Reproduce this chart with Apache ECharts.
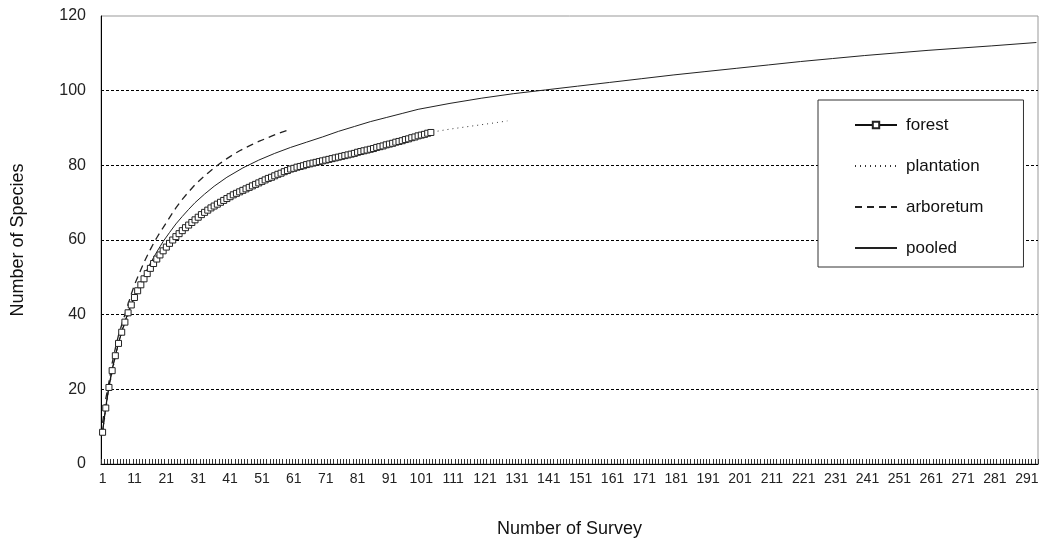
<!DOCTYPE html>
<html><head><meta charset="utf-8">
<script src="https://cdn.jsdelivr.net/npm/echarts@6/dist/echarts.min.js"></script>
<style>html,body{margin:0;padding:0;background:#fff}#c{width:1051px;height:543px}</style>
</head><body><div id="c"></div>
<script>
// survey numbers on the x axis (categories)
const surveyCount = 294;
const categories = Array.from({length: surveyCount}, (_, i) => String(i + 1));
const yTicks = [0, 20, 40, 60, 80, 100, 120];

// forest: one value per survey 1..104
const forestSpecies = [
  8.5, 15, 20.5, 25, 29, 32.3, 35.3, 38, 40.5, 42.6,
  44.6, 46.4, 48, 49.6, 51, 52.4, 53.7, 54.9, 56, 57.1,
  58.1, 59.1, 60, 60.9, 61.7, 62.5, 63.3, 64, 64.7, 65.4,
  66.1, 66.8, 67.4, 68, 68.6, 69.1, 69.6, 70.1, 70.6, 71.1,
  71.6, 72.1, 72.5, 72.9, 73.3, 73.7, 74.1, 74.5, 74.9, 75.3,
  75.7, 76.1, 76.5, 76.8, 77.2, 77.6, 77.9, 78.3, 78.6, 79.0,
  79.2, 79.5, 79.7, 79.9, 80.2, 80.4, 80.6, 80.8, 81.0, 81.2,
  81.4, 81.6, 81.8, 82.0, 82.2, 82.4, 82.6, 82.8, 83.0, 83.2,
  83.5, 83.7, 83.9, 84.1, 84.3, 84.5, 84.8, 85.0, 85.2, 85.5,
  85.7, 85.9, 86.2, 86.4, 86.6, 86.9, 87.1, 87.4, 87.6, 87.9,
  88.1, 88.3, 88.6, 88.8
];

// plantation: read at these survey numbers
const plantationSurvey = [1, 2, 3, 4, 5, 6, 8, 10, 12, 15, 20, 25, 30, 35, 40, 45, 50, 55, 60, 70, 80, 90, 100, 105, 110, 115, 120, 125, 128];
const plantationSpecies = [8, 14.5, 20, 24.5, 28.5, 32, 37.5, 42, 46, 50.5, 56.8, 61.4, 65.2, 68.3, 70.9, 73.2, 75.3, 77.2, 78.9, 81.2, 83.2, 85.5, 87.9, 89, 89.7, 90.3, 90.9, 91.5, 91.9];

// arboretum
const arboretumSurvey = [1, 2, 3, 4, 5, 6, 7, 8, 9, 10, 11, 12, 13, 14, 15, 16, 17, 18, 19, 20, 22, 24, 26, 28, 30, 32, 34, 36, 38, 40, 42, 44, 46, 48, 50, 52, 54, 56, 58, 60];
const arboretumSpecies = [11, 17.5, 22, 27, 31, 34.5, 37.3, 40, 42.8, 45.5, 48, 50, 52, 54, 55.8, 57.5, 59.1, 60.6, 62, 63.3, 66, 68.6, 70.9, 72.9, 74.8, 76.4, 77.9, 79.3, 80.6, 81.8, 82.9, 83.9, 84.8, 85.6, 86.4, 87.1, 87.8, 88.5, 89.1, 89.7];

// pooled
const pooledSurvey = [1, 2, 3, 4, 5, 6, 7, 8, 9, 10, 11, 12, 13, 14, 15, 16, 17, 18, 19, 20, 22, 24, 26, 28, 30, 33, 36, 40, 45, 50, 55, 60, 65, 70, 75, 80, 85, 90, 95, 100, 110, 120, 130, 140, 150, 160, 170, 180, 190, 200, 210, 220, 230, 240, 250, 260, 270, 280, 294];
const pooledSpecies = [9, 15.5, 21, 25.5, 29, 32.5, 35.5, 38.2, 40.6, 42.8, 44.9, 46.8, 48.7, 50.5, 52.2, 53.8, 55.3, 56.8, 58.2, 59.6, 62, 64.3, 66.3, 68.2, 70, 72.3, 74.4, 76.8, 79.3, 81.4, 83.2, 84.8, 86.2, 87.6, 89.1, 90.4, 91.7, 92.8, 93.9, 95.0, 96.6, 98.0, 99.2, 100.2, 101.2, 102.2, 103.2, 104.2, 105.1, 106.0, 106.9, 107.8, 108.6, 109.4, 110.1, 110.8, 111.4, 112.0, 112.9];

const pairs = (xs, ys) => xs.map((x, i) => [x - 1, ys[i]]);
const FONT = 'Liberation Sans, Arial, sans-serif';
const hideSym = {opacity: 0};

const chart = echarts.init(document.getElementById('c'), null, {renderer: 'canvas'});
chart.setOption({
  animation: false,
  backgroundColor: '#fff',
  grid: {left: 101, right: 13, top: 16, bottom: 78, show: true, borderColor: '#999', borderWidth: 1},
  legend: {
    orient: 'vertical', left: 818, top: 100,
    backgroundColor: '#fff', borderColor: '#333', borderWidth: 1,
    padding: [15, 40, 9, 36], itemGap: 21, itemWidth: 42, itemHeight: 8,
    textStyle: {fontFamily: FONT, fontSize: 17, color: '#111', padding: [0, 0, 0, 4], lineHeight: 20},
    data: [
      {name: 'forest'},
      {name: 'plantation', itemStyle: hideSym},
      {name: 'arboretum', itemStyle: hideSym},
      {name: 'pooled', itemStyle: hideSym}
    ]
  },
  xAxis: {
    type: 'category', data: categories, boundaryGap: true,
    name: 'Number of Survey', nameLocation: 'middle', nameGap: 56,
    nameTextStyle: {fontFamily: FONT, fontSize: 18, color: '#111'},
    axisLine: {lineStyle: {color: '#000', width: 1}},
    axisTick: {show: true, inside: true, length: 5, interval: 0, alignWithLabel: false, lineStyle: {color: '#333'}},
    axisLabel: {interval: 9, fontFamily: FONT, fontSize: 14, color: '#222', margin: 8},
    splitLine: {show: false}
  },
  yAxis: {
    type: 'value', min: yTicks[0], max: yTicks[yTicks.length - 1], interval: 20,
    name: 'Number of Species', nameLocation: 'middle', nameGap: 74, nameRotate: 90,
    nameTextStyle: {fontFamily: FONT, fontSize: 18, color: '#111'},
    axisLine: {show: true, lineStyle: {color: '#000', width: 1}},
    axisTick: {show: false},
    axisLabel: {fontFamily: FONT, fontSize: 16, color: '#222', margin: 15},
    splitLine: {show: true, showMinLine: false, showMaxLine: false, lineStyle: {color: '#000', type: [3, 2], width: 1}}
  },
  series: [
    {
      name: 'forest', type: 'line', data: forestSpecies, z: 5,
      symbol: 'rect', symbolSize: 6, showAllSymbol: true,
      itemStyle: {color: '#fff', borderColor: '#222', borderWidth: 1},
      lineStyle: {color: '#111', width: 1}
    },
    {
      name: 'plantation', type: 'line', data: pairs(plantationSurvey, plantationSpecies), z: 3,
      symbol: 'none', itemStyle: {color: '#333'},
      lineStyle: {color: '#333', width: 1, type: [1, 4]}
    },
    {
      name: 'arboretum', type: 'line', data: pairs(arboretumSurvey, arboretumSpecies), z: 4,
      symbol: 'none', itemStyle: {color: '#222'},
      lineStyle: {color: '#222', width: 1.3, type: [7, 5]}
    },
    {
      name: 'pooled', type: 'line', data: pairs(pooledSurvey, pooledSpecies), z: 4,
      symbol: 'none', itemStyle: {color: '#222'},
      lineStyle: {color: '#222', width: 1}
    }
  ]
});
</script></body></html>
